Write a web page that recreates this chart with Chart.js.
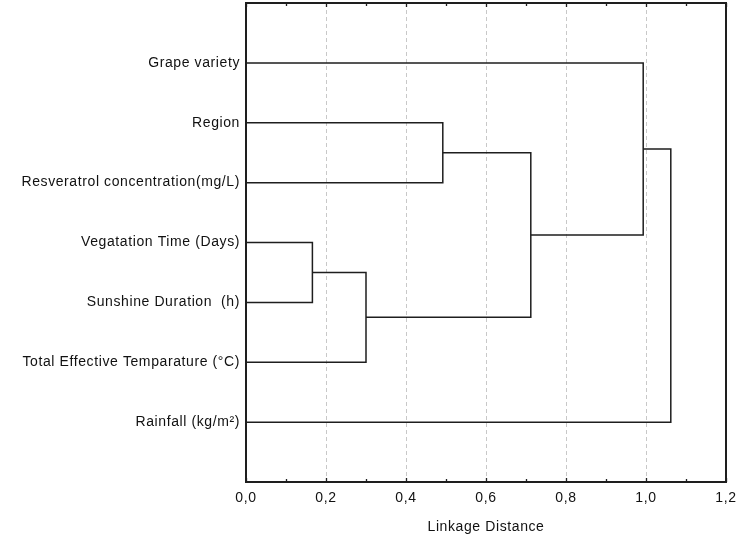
<!DOCTYPE html>
<html>
<head>
<meta charset="utf-8">
<script src="https://cdn.jsdelivr.net/npm/chart.js@4"></script>
<style>
  html, body { margin: 0; padding: 0; background: #fff; }
  #wrap { width: 738px; height: 542px; }
</style>
</head>
<body>
<div id="wrap"><canvas id="dendro"></canvas></div>
<script>
// leaves, top to bottom
const leaves = [
  "Grape variety",
  "Region",
  "Resveratrol concentration(mg/L)",
  "Vegatation Time (Days)",
  "Sunshine Duration  (h)",
  "Total Effective Temparature (\u00B0C)",
  "Rainfall (kg/m\u00B2)"
];

// merges: node ids 0..6 are leaves, each merge creates node 7, 8, ...
const mergeLeft = [3, 7, 1, 9, 0, 11];
const mergeRight = [4, 5, 2, 8, 10, 6];
const mergeHeight = [0.166, 0.30, 0.492, 0.712, 0.993, 1.062];

const xTicks = [0, 0.2, 0.4, 0.6, 0.8, 1.0, 1.2];

// node positions
let nodeX = leaves.map(() => 0);
let nodeY = leaves.map((l, i) => i + 1);
let datasets = [];
for (let i = 0; i < mergeHeight.length; i++) {
  let a = mergeLeft[i], b = mergeRight[i], h = mergeHeight[i];
  datasets.push({
    data: [
      { x: nodeX[a], y: nodeY[a] },
      { x: h, y: nodeY[a] },
      { x: h, y: nodeY[b] },
      { x: nodeX[b], y: nodeY[b] }
    ],
    showLine: true,
    borderColor: "#1e1e1e",
    borderWidth: 1.5,
    pointRadius: 0,
    fill: false,
    tension: 0
  });
  nodeX.push(h);
  nodeY.push((nodeY[a] + nodeY[b]) / 2);
}

// canvas resize resets context state, so set spacing again before layout and draw
const spacing = {
  id: "spacing",
  beforeLayout(chart) { chart.ctx.letterSpacing = "0.6px"; },
  beforeDraw(chart) { chart.ctx.letterSpacing = "0.6px"; }
};

// frame around plot + inward tick marks
const frame = {
  id: "frame",
  afterDraw(chart) {
    const ctx = chart.ctx;
    const a = chart.chartArea;
    const xs = chart.scales.x;
    ctx.save();
    ctx.strokeStyle = "#1e1e1e";
    ctx.lineWidth = 1.3;
    for (let k = 0; k <= 12; k++) {
      const px = Math.round(xs.getPixelForValue(k / 10)) + 0.5;
      const len = k % 2 === 0 ? 4 : 3;
      ctx.beginPath();
      ctx.moveTo(px, a.bottom);
      ctx.lineTo(px, a.bottom - len);
      ctx.moveTo(px, a.top);
      ctx.lineTo(px, a.top + len);
      ctx.stroke();
    }
    ctx.lineWidth = 2;
    ctx.strokeRect(a.left, a.top, a.right - a.left, a.bottom - a.top);
    ctx.restore();
  }
};

new Chart(document.getElementById("dendro"), {
  type: "scatter",
  data: { datasets: datasets },
  plugins: [spacing, frame],
  options: {
    responsive: true,
    maintainAspectRatio: false,
    animation: false,
    layout: { padding: { top: 3, right: 12, left: 0, bottom: 0 } },
    plugins: {
      legend: { display: false },
      tooltip: { enabled: false }
    },
    scales: {
      x: {
        type: "linear",
        min: 0,
        max: 1.2,
        afterBuildTicks: (s) => { s.ticks = xTicks.map(v => ({ value: v })); },
        afterFit: (s) => { s.height = 60; s.paddingLeft = 0; s.paddingRight = 0; },
        ticks: {
          padding: 8,
          color: "#111",
          font: { family: "Liberation Sans, Arial, sans-serif", size: 14 },
          callback: (v) => v.toFixed(1).replace(".", ",")
        },
        grid: {
          drawTicks: false,
          lineWidth: 1,
          color: (c) => (c.tick && (c.tick.value === 0 || c.tick.value === 1.2)) ? "rgba(0,0,0,0)" : "#c8c8c8"
        },
        border: { display: false, dash: [4, 3] },
        title: {
          display: true,
          text: "Linkage Distance",
          color: "#111",
          padding: { top: 0, bottom: 6 },
          font: { family: "Liberation Sans, Arial, sans-serif", size: 14 }
        }
      },
      y: {
        type: "linear",
        min: 0,
        max: 8,
        reverse: true,
        afterBuildTicks: (s) => { s.ticks = leaves.map((l, i) => ({ value: i + 1 })); },
        afterFit: (s) => { s.width = 246; s.paddingTop = 0; s.paddingBottom = 0; },
        ticks: {
          padding: 6,
          color: "#111",
          autoSkip: false,
          font: { family: "Liberation Sans, Arial, sans-serif", size: 14 },
          callback: (v) => leaves[v - 1] || ""
        },
        grid: { display: false, drawTicks: false },
        border: { display: false }
      }
    }
  }
});
</script>
</body>
</html>
